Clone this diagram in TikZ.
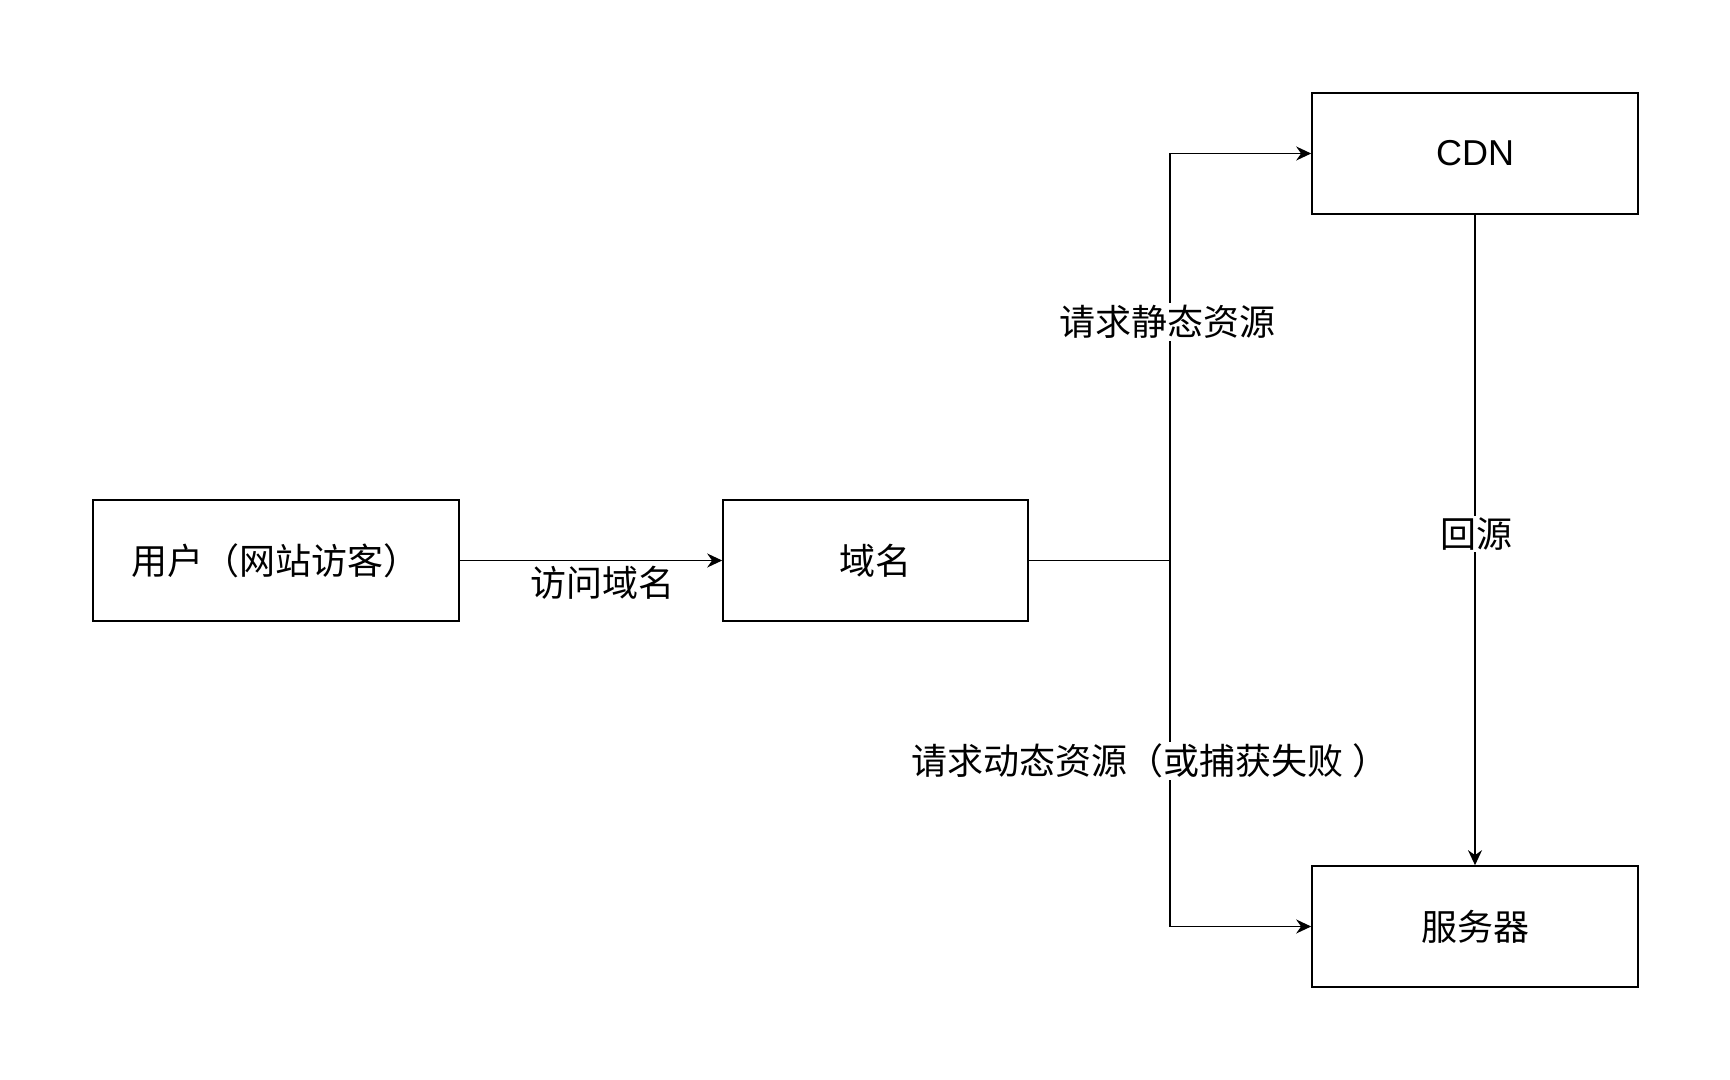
\documentclass[tikz,border=0pt]{standalone}
\usepackage{fontspec}
\setmainfont{Noto Sans CJK SC}
\newfontfamily\latinfont{Liberation Sans}
\usetikzlibrary{arrows.meta, positioning, calc}
\tikzset{
  box/.style={rectangle, draw=black, fill=white,
    minimum width=163pt, minimum height=60.5pt, inner sep=0pt,
    font=\fontsize{18}{22}\selectfont, line width=0.8pt},
  lbl/.style={fill=white, inner sep=1pt, font=\fontsize{18}{22}\selectfont},
  arrow/.style={-{Stealth[length=7.5pt, width=7pt]}, line width=0.8pt, color=black},
  line/.style={line width=0.8pt, color=black}
}
\begin{document}
\begin{tikzpicture}[x=0.5pt, y=-0.5pt]
  \useasboundingbox (0,0) rectangle (1730,1080);

  % Boxes
  \node[box, minimum width=183pt] (user) at (275.8,560.5) {用户（网站访客）};
  \node[box, minimum width=152.5pt] (domain) at (875.5,560.5) {域名};
  \node[box] (cdn) at (1475,153.5) {\latinfont CDN};
  \node[box] (server) at (1475,926.5) {服务器};
  \coordinate (junc) at (1170,560.5);

  % Connectors
  \draw[arrow] (user) -- (domain);
  \draw[line] (domain) -- (junc);
  \draw[arrow] (junc) |- (cdn);
  \draw[arrow] (junc) |- (server);
  \draw[arrow] (cdn) -- (server);

  % Labels
  \node[lbl, fill=none] (visit) at (602,583) {访问域名};
  \node[lbl] (static) at (1167,322) {请求静态资源};
  \node[lbl] (origin) at (1476,534) {回源};
  \node[lbl] (dynamic) at (1150,761) {请求动态资源（或捕获失败 ）};
\end{tikzpicture}
\end{document}
